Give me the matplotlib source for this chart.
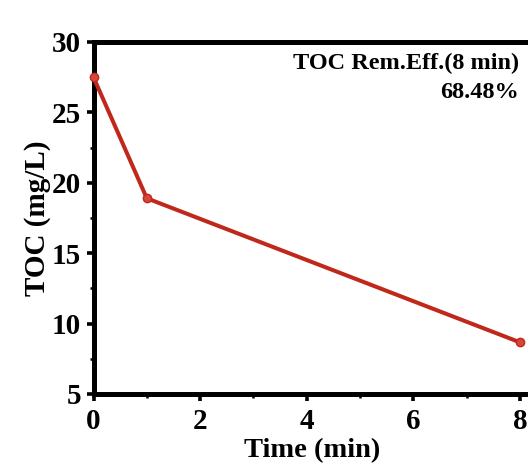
import matplotlib
matplotlib.use("Agg")
import matplotlib.pyplot as plt
from matplotlib.ticker import MultipleLocator

time_min = [0, 1, 8]
toc = [27.5, 18.9, 8.67]
annot_lines = ["TOC Rem.Eff.(8 min)", "68.48%"]

plt.rcParams['font.family'] = ['Liberation Serif', 'DejaVu Serif']
plt.rcParams['font.weight'] = 'bold'

W, H = 528, 466
fig = plt.figure(figsize=(W/100, H/100), dpi=100)
left, right, top, bottom = 93.5, 530.6, 42, 394
ax = fig.add_axes([left/W, 1-bottom/H, (right-left)/W, (bottom-top)/H])

ax.plot(time_min, toc, color='#C0281C', lw=2.9, marker='o', ms=6,
        mfc='#D9453A', mec='#C0281C', mew=1, clip_on=False, zorder=3)

ax.set_xlim(0, 8.2)
ax.set_ylim(5, 30)
ax.xaxis.set_major_locator(MultipleLocator(2))
ax.xaxis.set_minor_locator(MultipleLocator(1))
ax.yaxis.set_major_locator(MultipleLocator(5))
ax.yaxis.set_minor_locator(MultipleLocator(2.5))
for s in ax.spines.values():
    s.set_linewidth(3.6)
ax.tick_params(which='major', direction='out', length=5, width=2.6, labelsize=21)
ax.tick_params(axis='x', which='major', pad=5)
ax.tick_params(axis='y', which='major', pad=4)
ax.tick_params(which='minor', direction='out', length=3, width=1.8)
for lab in ax.get_xticklabels() + ax.get_yticklabels():
    lab.set_fontweight('bold')

ax.set_xlabel('Time (min)', fontsize=20.5, fontweight='bold', labelpad=2)
ax.set_ylabel('TOC (mg/L)', fontsize=21, fontweight='bold')
ax.yaxis.set_label_coords((51 - left) / (right - left), 0.5)

fig.text(519/W, 1-63/H, annot_lines[0], ha='right', va='center', fontsize=17.5, fontweight='bold')
fig.text(519/W, 1-93/H, annot_lines[1], ha='right', va='center', fontsize=17.5, fontweight='bold')

fig.savefig('out.png', dpi=100)
